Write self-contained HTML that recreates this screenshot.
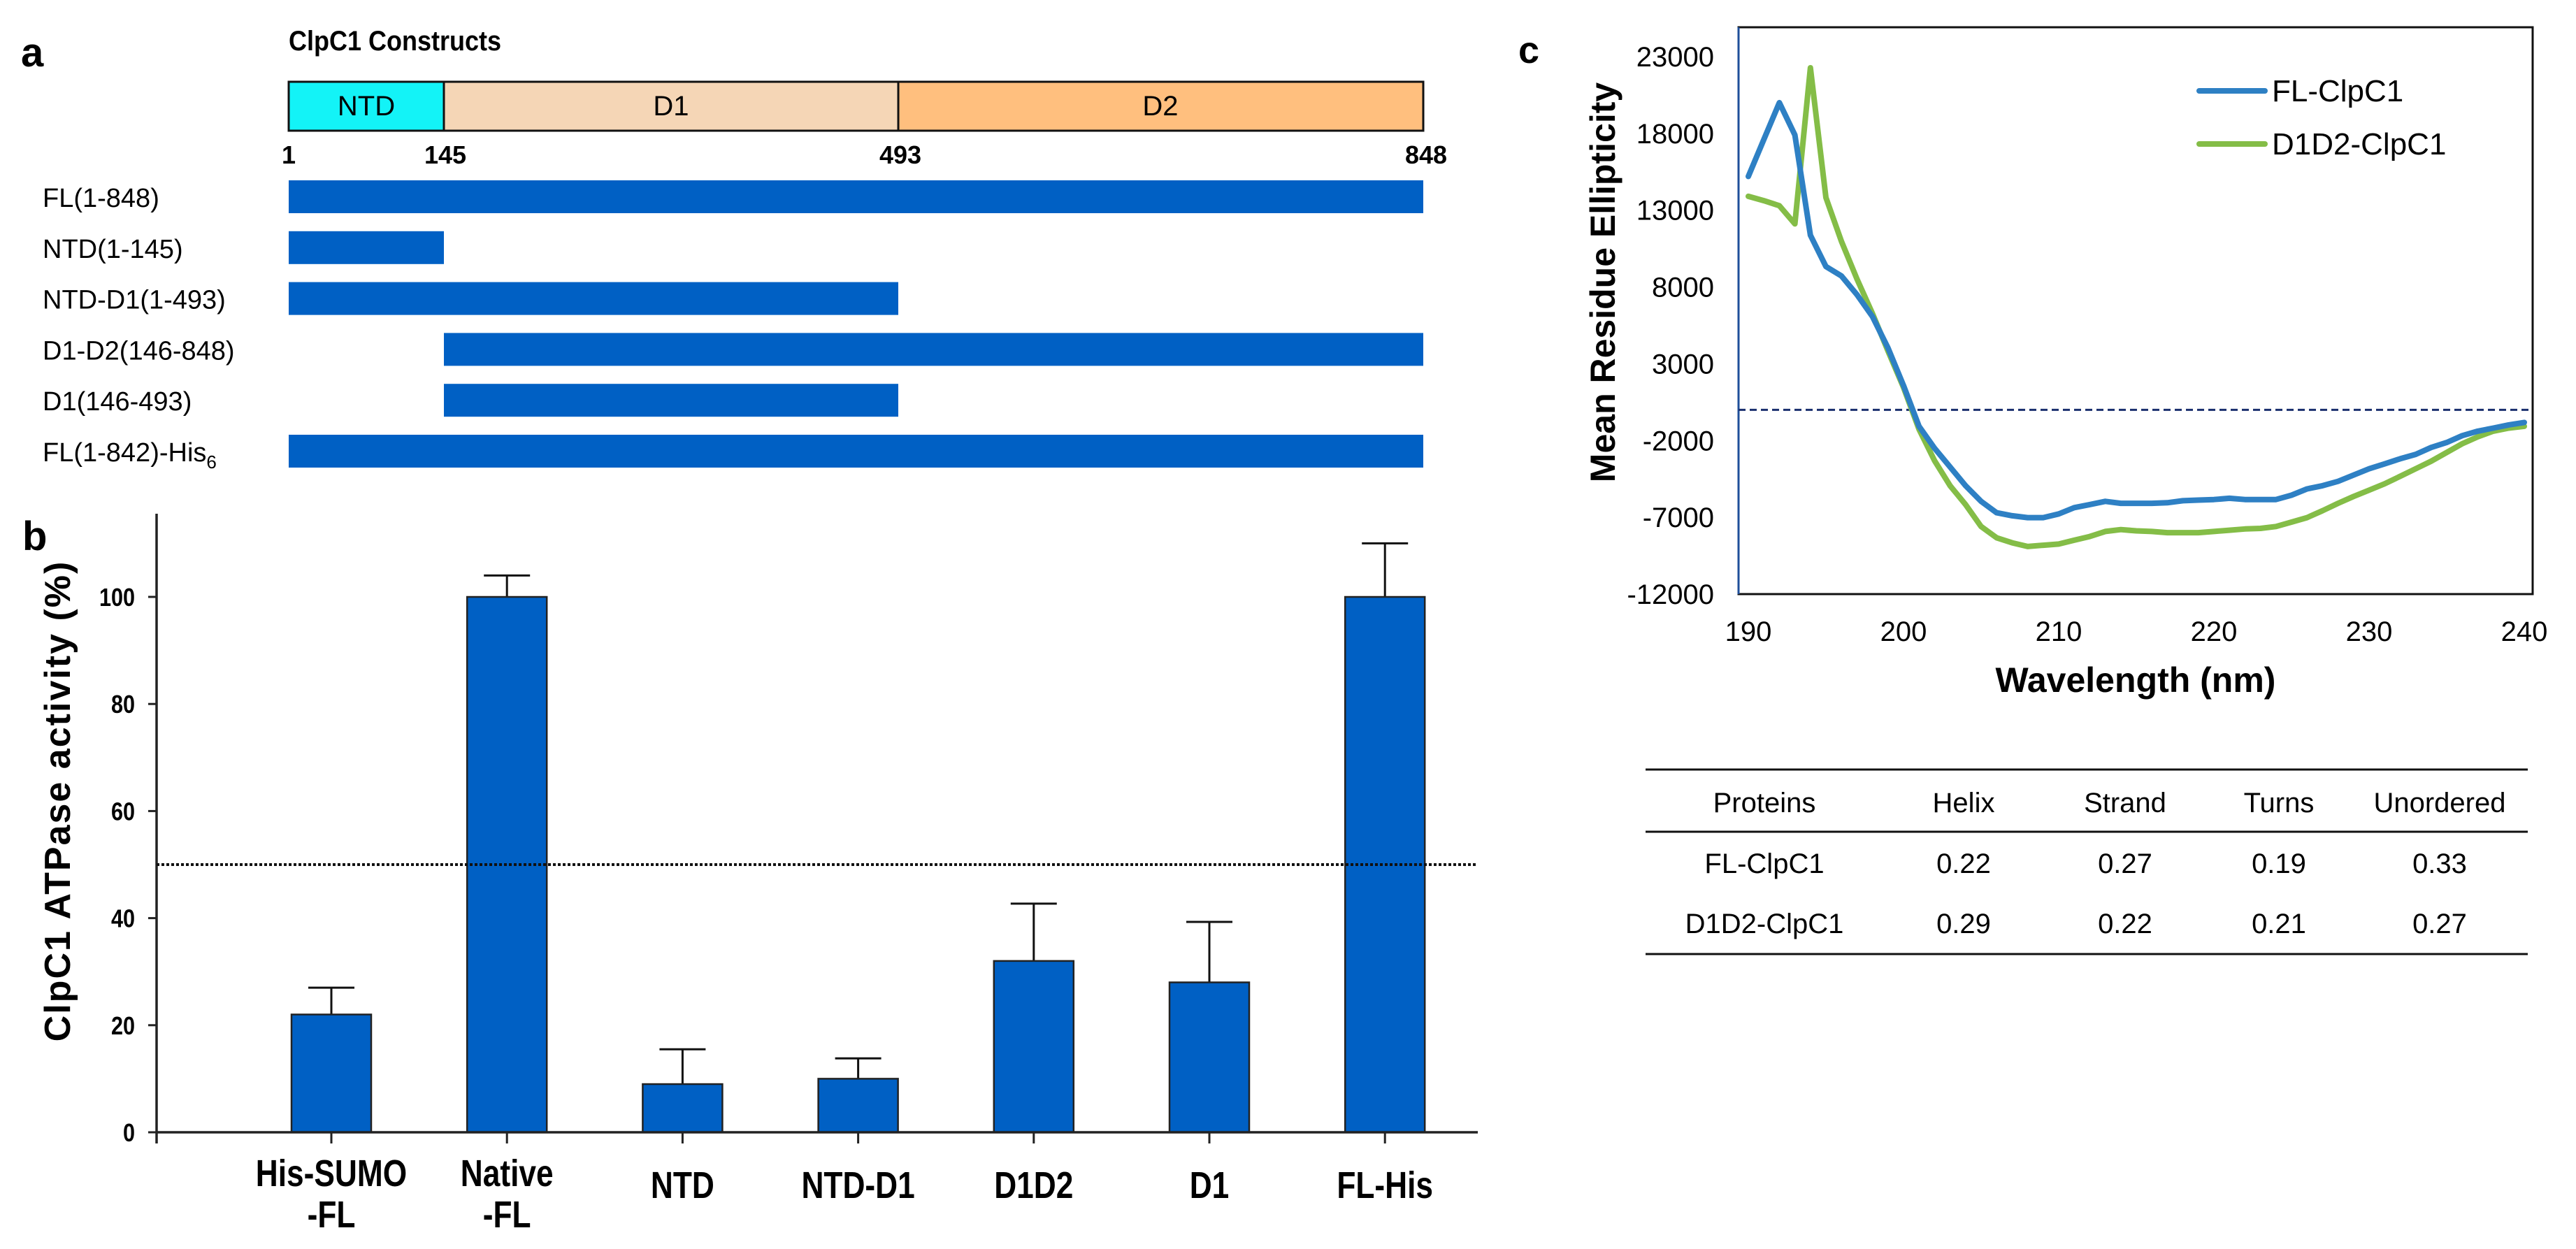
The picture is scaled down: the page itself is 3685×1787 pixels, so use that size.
<!DOCTYPE html>
<html><head><meta charset="utf-8"><style>
html,body{margin:0;padding:0;background:#fff;}
svg{display:block;font-family:"Liberation Sans",Arial,sans-serif;}
</style></head><body>
<svg id="fig" width="3685" height="1787" viewBox="0 0 3685 1787" xmlns="http://www.w3.org/2000/svg">
<g id="panelA">
<text x="30" y="95" font-size="58" font-weight="bold">a</text>
<text x="413" y="72" font-size="40" font-weight="bold" transform="translate(413 0) scale(0.9 1) translate(-413 0)">ClpC1 Constructs</text>
<rect x="413" y="117" width="222" height="70" fill="#13f3f7" stroke="#111" stroke-width="3"/>
<rect x="635" y="117" width="650" height="70" fill="#f5d6b6" stroke="#111" stroke-width="3"/>
<rect x="1285" y="117" width="751" height="70" fill="#ffbf7e" stroke="#111" stroke-width="3"/>
<text x="524" y="165" font-size="40" text-anchor="middle">NTD</text>
<text x="960" y="165" font-size="40" text-anchor="middle">D1</text>
<text x="1660" y="165" font-size="40" text-anchor="middle">D2</text>
<g font-size="36" font-weight="bold">
<text x="413" y="234" text-anchor="middle">1</text>
<text x="637" y="234" text-anchor="middle">145</text>
<text x="1288" y="234" text-anchor="middle">493</text>
<text x="2040" y="234" text-anchor="middle">848</text>
</g>
<g id="constructs"></g>
</g>
<g id="panelB"></g>
<g id="panelC"></g>
<g id="table"></g>
</svg>
<script>
const NS="http://www.w3.org/2000/svg";
function mk(parent,tag,attrs,text){const e=document.createElementNS(NS,tag);for(const k in attrs)e.setAttribute(k,attrs[k]);if(text!==undefined)e.textContent=text;parent.appendChild(e);return e;}

/* ---------- Panel A constructs ---------- */
const constructNames=["FL(1-848)","NTD(1-145)","NTD-D1(1-493)","D1-D2(146-848)","D1(146-493)","FL(1-842)-His"];
const constructStart=[1,1,1,146,146,1];
const constructEnd=[848,145,493,848,493,848];
const domainRes=[1,145,493,848];
const domainPx=[413,635,1285,2036];
function resX(r){
  if(r<=145) return 413+(r-1)*(635-413)/144;
  if(r<=146) return 635;
  if(r<=493) return 635+(r-146)*(1285-635)/347;
  return 1285+(r-493)*(2036-1285)/355;
}
const cg=document.getElementById('constructs');
constructNames.forEach((n,i)=>{
  const y=258+i*72.8;
  const r=mk(cg,'rect',{x:resX(constructStart[i]),y:y,width:resX(constructEnd[i])-resX(constructStart[i]),height:47,fill:'#0060c4'});
  
  
  const t=mk(cg,'text',{x:61,y:y+38,'font-size':38},n);
  
  
  if(i===5){mk(t,'tspan',{'font-size':26,dy:10},'6');}
});

/* ---------- Panel B bar chart ---------- */
const barCats=[["His-SUMO","-FL"],["Native","-FL"],["NTD"],["NTD-D1"],["D1D2"],["D1"],["FL-His"]];
const barVals=[22,100,9,10,32,28,100];
const barErrs=[27,104,15.5,13.8,42.7,39.3,110];
const yTicksB=[0,20,40,60,80,100];
const bx0=224, by0=1620, bpx=7.66;
const yB=v=>by0-v*bpx;
const xB=i=>474+i*251.2;
const pb=document.getElementById('panelB');
let e;
e=mk(pb,'text',{x:32,y:787,'font-size':58,'font-weight':'bold'},'b');


e=mk(pb,'text',{x:0,y:0,'font-size':52,'font-weight':'bold','text-anchor':'middle','letter-spacing':'2',transform:'translate(100 1146) rotate(-90)'},'ClpC1 ATPase activity (%)');


yTicksB.forEach(v=>{
  const l=mk(pb,'line',{x1:bx0-12,x2:bx0,y1:yB(v),y2:yB(v),stroke:'#222','stroke-width':3});
  
  
  const t=mk(pb,'text',{x:193,y:yB(v)+13,'font-size':36,'font-weight':'bold','text-anchor':'end',transform:`translate(193 0) scale(0.85 1) translate(-193 0)`},String(v));
  
  
});
barVals.forEach((v,i)=>{
  const cx=xB(i);
  const el=mk(pb,'line',{x1:cx,x2:cx,y1:yB(v),y2:yB(barErrs[i]),stroke:'#111','stroke-width':3});
  
  
  const cap=mk(pb,'line',{x1:cx-33,x2:cx+33,y1:yB(barErrs[i]),y2:yB(barErrs[i]),stroke:'#111','stroke-width':3});
  
  
  const r=mk(pb,'rect',{x:cx-57,y:yB(v),width:114,height:by0-yB(v),fill:'#0060c4',stroke:'#222','stroke-width':2.5});
  
  
  const tk=mk(pb,'line',{x1:cx,x2:cx,y1:by0,y2:by0+16,stroke:'#222','stroke-width':3});
  
  
  const lines=barCats[i];
  lines.forEach((s,j)=>{
    const yy=lines.length===1?1714:(j===0?1697:1756);
    const t=mk(pb,'text',{x:cx,y:yy,'font-size':54,'font-weight':'bold','text-anchor':'middle',transform:`translate(${cx} 0) scale(0.82 1) translate(${-cx} 0)`},s);
    
    
  });
});
e=mk(pb,'line',{x1:bx0,x2:bx0,y1:735,y2:by0+16,stroke:'#222','stroke-width':3.5});


e=mk(pb,'line',{x1:bx0,x2:2114,y1:by0,y2:by0,stroke:'#222','stroke-width':3.5});


e=mk(pb,'line',{x1:bx0,x2:2114,y1:yB(50),y2:yB(50),stroke:'#111','stroke-width':4,'stroke-dasharray':'4 3'});



/* ---------- Panel C CD spectrum ---------- */
const wavelengths=[190,191,192,193,194,195,196,197,198,199,200,201,202,203,204,205,206,207,208,209,210,211,212,213,214,215,216,217,218,219,220,221,222,223,224,225,226,227,228,229,230,231,232,233,234,235,236,237,238,239,240];
const flValues=[15200,17600,20000,17900,11370,9330,8720,7500,6070,4030,1580,-1070,-2500,-3720,-4940,-5960,-6700,-6900,-7020,-7020,-6780,-6370,-6170,-5960,-6090,-6090,-6090,-6050,-5920,-5880,-5840,-5760,-5840,-5840,-5840,-5560,-5150,-4940,-4660,-4250,-3840,-3520,-3190,-2900,-2450,-2130,-1680,-1390,-1190,-980,-820];
const d1d2Values=[13900,13620,13290,12110,22270,13820,10970,8520,6270,3830,1460,-1270,-3310,-4940,-6170,-7600,-8330,-8660,-8900,-8820,-8740,-8490,-8250,-7920,-7800,-7880,-7920,-8000,-8000,-8000,-7920,-7840,-7760,-7720,-7600,-7310,-7020,-6570,-6090,-5640,-5230,-4820,-4330,-3840,-3350,-2780,-2210,-1760,-1390,-1190,-1070];
const yTicksC=[23000,18000,13000,8000,3000,-2000,-7000,-12000];
const xTicksC=[190,200,210,220,230,240];
const xC=w=>2501+(w-190)*22.2;
const yC=v=>850-(v+12000)*769/35000;
const pc=document.getElementById('panelC');
e=mk(pc,'text',{x:2172,y:90,'font-size':54,'font-weight':'bold'},'c');


e=mk(pc,'rect',{x:2487,y:39,width:1136,height:811,fill:'none',stroke:'#111','stroke-width':3});


e=mk(pc,'line',{x1:2487,x2:2487,y1:39,y2:850,stroke:'#1f4f9a','stroke-width':3});


yTicksC.forEach(v=>{
  const t=mk(pc,'text',{x:2452,y:yC(v)+14,'font-size':40,'text-anchor':'end'},String(v));
  
  
});
xTicksC.forEach(w=>{
  const t=mk(pc,'text',{x:xC(w),y:917,'font-size':40,'text-anchor':'middle'},String(w));
  
  
});
e=mk(pc,'text',{x:3055,y:990,'font-size':50,'font-weight':'bold','text-anchor':'middle'},'Wavelength (nm)');


e=mk(pc,'text',{x:0,y:0,'font-size':50,'font-weight':'bold','text-anchor':'middle',transform:'translate(2310 404) rotate(-90)'},'Mean Residue Ellipticity');


e=mk(pc,'line',{x1:2487,x2:3623,y1:yC(0),y2:yC(0),stroke:'#1a2f6e','stroke-width':3,'stroke-dasharray':'10 6'});


function pts(vals){return vals.map((v,i)=>xC(wavelengths[i]).toFixed(1)+','+yC(v).toFixed(1)).join(' ');}
e=mk(pc,'polyline',{points:pts(d1d2Values),fill:'none',stroke:'#84bd47','stroke-width':8,'stroke-linejoin':'round','stroke-linecap':'round'});


e=mk(pc,'polyline',{points:pts(flValues),fill:'none',stroke:'#2e80c4','stroke-width':8,'stroke-linejoin':'round','stroke-linecap':'round'});


e=mk(pc,'line',{x1:3146,x2:3240,y1:130,y2:130,stroke:'#2e80c4','stroke-width':8,'stroke-linecap':'round'});


e=mk(pc,'text',{x:3250,y:145,'font-size':44},'FL-ClpC1');


e=mk(pc,'line',{x1:3146,x2:3240,y1:206,y2:206,stroke:'#84bd47','stroke-width':8,'stroke-linecap':'round'});


e=mk(pc,'text',{x:3250,y:221,'font-size':44},'D1D2-ClpC1');



/* ---------- Table ---------- */
const tableHeader=["Proteins","Helix","Strand","Turns","Unordered"];
const tableRows=[["FL-ClpC1","0.22","0.27","0.19","0.33"],["D1D2-ClpC1","0.29","0.22","0.21","0.27"]];
const colX=[2524,2809,3040,3260,3490];
const tb=document.getElementById('table');
[1101,1190,1365].forEach(y=>{
  const l=mk(tb,'line',{x1:2354,x2:3616,y1:y,y2:y,stroke:'#111','stroke-width':3});
  
  
});
tableHeader.forEach((h,i)=>{
  const t=mk(tb,'text',{x:colX[i],y:1162,'font-size':40,'text-anchor':'middle'},h);
  
  
});
tableRows.forEach((row,r)=>{
  row.forEach((c,i)=>{
    const t=mk(tb,'text',{x:colX[i],y:1249+r*86,'font-size':40,'text-anchor':'middle'},c);
    
    
  });
});
</script>
</body></html>
